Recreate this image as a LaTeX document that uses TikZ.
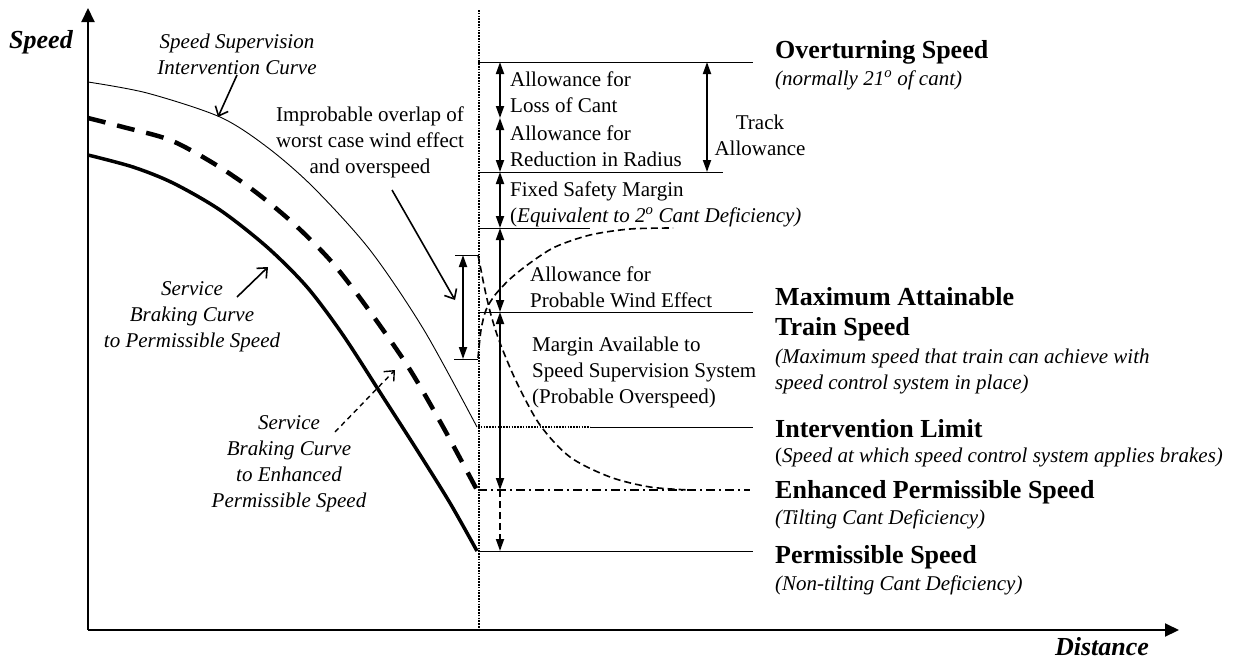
\documentclass[tikz,border=0pt]{standalone}
\usepackage{fontspec}
\setmainfont{Liberation Serif}
\usetikzlibrary{positioning,arrows.meta}

\begin{document}
\begin{tikzpicture}[x=1pt, y=-1pt,
    every node/.style={font=\fontsize{21}{26}\selectfont, inner sep=0pt},
    crvlabel/.style={font=\fontsize{21}{26}\selectfont\itshape, align=center},
    title/.style={font=\fontsize{26}{30}\selectfont\bfseries, anchor=west, align=left},
    note/.style={font=\fontsize{21}{26}\selectfont\itshape, anchor=west, align=left},
    txt/.style={anchor=west, align=left},
    lvl/.style={line width=1pt},
    dim/.style={line width=1.8pt, {Triangle[length=12pt,width=8pt]}-{Triangle[length=12pt,width=8pt]}},
    ptr/.style={line width=1.6pt, -{Straight Barb[length=8pt,width=14pt]}},
    fine dash/.style={line width=1.6pt, dash pattern=on 7pt off 4pt},
    dots/.style={line width=1.7pt, dash pattern=on 1.5pt off 1.3pt}]
    \useasboundingbox (0,0) rectangle (1244,659);

    % Axes and the dotted reference line
    \coordinate (O) at (88,630);
    \coordinate (ytop) at (88,8);
    \coordinate (xend) at (1179,630);
    \draw[line width=2pt, -{Triangle[length=14pt,width=13pt]}] (O) -- (ytop);
    \draw[line width=2pt, -{Triangle[length=14pt,width=13pt]}] (O) -- (xend);
    \draw[dots] (479,10) -- (479,630);
    \node[font=\fontsize{26}{30}\selectfont\bfseries\itshape] (spd) at (41,42) {Speed};
    \node[font=\fontsize{26}{30}\selectfont\bfseries\itshape] (dist) at (1102,647) {Distance};

    % Braking curves
    \draw[line width=0.9pt] plot[smooth] coordinates {(88,82) (147,93) (220,117) (267,147) (313,187)
        (370,250) (424,330) (477,427)};
    \draw[line width=4.5pt, dash pattern=on 18pt off 12pt] plot[smooth] coordinates {(88,118) (123,127)
        (170,140) (213,163) (253,190) (293,223) (330,260) (363,302) (407,365) (442,425) (477,490)};
    \draw[line width=3.5pt] plot[smooth] coordinates {(88,155) (133,167) (173,183) (220,210) (267,247)
        (307,287) (343,335) (383,397) (417,450) (450,503) (477,551)};

    % Speed levels
    \foreach \y/\xe in {62/753, 172/723, 228/590, 312/753, 551/753} {
        \draw[lvl] (478,\y) -- (\xe,\y);
    }
    \draw[dots, line width=1.4pt] (478,427) -- (590,427);
    \draw[lvl] (590,427) -- (753,427);
    \draw[line width=1.5pt, dash pattern=on 9pt off 4pt on 2pt off 4pt] (478,490) -- (750,490);

    % Wind effect and overspeed curves
    \draw[fine dash] plot[smooth] coordinates {(478,358) (481,330) (486,310) (495,295) (510,279)
        (530,263) (555,247) (590,235) (630,229) (673,228)};
    \draw[fine dash] plot[smooth] coordinates {(478,255) (481,270) (485,290) (491,315) (500,343)
        (517,383) (540,425) (570,457) (610,477) (650,487) (690,490)};

    % Margin arrows
    \foreach \n/\y in {ovt/62, loc/118, rad/172, fsm/228, mat/312, eps/490, ps/551} {
        \coordinate (d\n) at (500,\y);
    }
    \foreach \a/\b in {ovt/loc, loc/rad, rad/fsm, fsm/mat, mat/eps} {
        \draw[dim] (d\a) -- (d\b);
    }
    \draw[fine dash, line width=1.8pt, -{Triangle[length=12pt,width=8pt]}] (deps) -- (dps);
    \coordinate (tktop) at (707,62);
    \coordinate (tkbot) at (707,172);
    \draw[dim] (tktop) -- (tkbot);

    % Improbable overlap range
    \coordinate (ovtop) at (463,255);
    \coordinate (ovbot) at (463,359);
    \draw[lvl] (455,255) -- (478,255);
    \draw[lvl] (454,359) -- (478,359);
    \draw[dim] (ovtop) -- (ovbot);

    % Labels on the curves
    \node[crvlabel] (sic) at (237,54) {Speed Supervision\\Intervention Curve};
    \node[align=center] (ovl) at (370,142) {Improbable overlap of\\worst case wind effect\\and overspeed};
    \node[crvlabel] (sbp) at (192,317) {Service\\Braking Curve\\to Permissible Speed};
    \node[crvlabel] (sbe) at (289,464) {Service\\Braking Curve\\to Enhanced\\Permissible Speed};

    \coordinate (sicA) at (237,75);  \coordinate (sicB) at (218,117);
    \coordinate (ovlA) at (392,190); \coordinate (ovlB) at (455,300);
    \coordinate (sbpA) at (237,297); \coordinate (sbpB) at (268,267);
    \coordinate (sbeA) at (335,432); \coordinate (sbeB) at (395,370);
    \draw[ptr] (sicA) -- (sicB);
    \draw[ptr] (ovlA) -- (ovlB);
    \draw[ptr] (sbpA) -- (sbpB);
    \draw[ptr, line width=1.4pt, dash pattern=on 5pt off 4pt] (sbeA) -- (sbeB);

    % Margin texts
    \node[txt] (loss) at (510,92) {Allowance for\\Loss of Cant};
    \node[txt] (red) at (510,146) {Allowance for\\Reduction in Radius};
    \node[txt] (fix) at (510,204) {Fixed Safety Margin\\(\textit{Equivalent to 2\textsuperscript{o} Cant Deficiency)}};
    \node[txt] (wind) at (530,287) {Allowance for\\Probable Wind Effect};
    \node[txt] (marg) at (532,372) {Margin Available to\\Speed Supervision System\\(Probable Overspeed)};
    \node[align=center] (trk) at (760,135) {Track\\Allowance};

    % Speed level names
    \node[title] (ovtT) at (775,52) {Overturning Speed};
    \node[note] (ovtN) at (775,80) {(normally 21\textsuperscript{o} of cant)};
    \node[title] (matT) at (775,314) {Maximum Attainable\\Train Speed};
    \node[note] (matN) at (775,371) {(Maximum speed that train can achieve with\\speed control system in place)};
    \node[title] (intT) at (775,429) {Intervention Limit};
    \node[txt] (intN) at (775,457) {(\textit{Speed at which speed control system applies brakes)}};
    \node[title] (epsT) at (775,492) {Enhanced Permissible Speed};
    \node[note] (epsN) at (775,519) {(Tilting Cant Deficiency)};
    \node[title] (psT) at (775,557) {Permissible Speed};
    \node[note] (psN) at (775,585) {(Non-tilting Cant Deficiency)};
\end{tikzpicture}
\end{document}
